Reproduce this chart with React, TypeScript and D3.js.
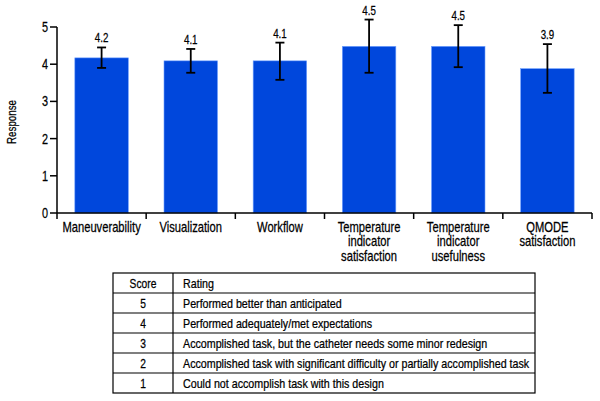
import React from "react";
import * as d3 from "d3";

const categories = [
  ["Maneuverability"],
  ["Visualization"],
  ["Workflow"],
  ["Temperature", "indicator", "satisfaction"],
  ["Temperature", "indicator", "usefulness"],
  ["QMODE", "satisfaction"],
];
const means = [4.17, 4.09, 4.09, 4.48, 4.48, 3.88];
const labels = ["4.2", "4.1", "4.1", "4.5", "4.5", "3.9"];
const errHigh = [4.45, 4.41, 4.58, 5.2, 5.05, 4.54];
const errLow = [3.9, 3.77, 3.58, 3.77, 3.92, 3.23];
const yTicks = [0, 1, 2, 3, 4, 5];

const tableHeader = ["Score", "Rating"];
const scores = ["5", "4", "3", "2", "1"];
const ratings = [
  "Performed better than anticipated",
  "Performed adequately/met expectations",
  "Accomplished task, but the catheter needs some minor redesign",
  "Accomplished task with significant difficulty or partially accomplished task",
  "Could not accomplish task with this design",
];

const FONT = "'Liberation Sans', Arial, sans-serif";

function T({ x, y, anchor = "start", size = 13, sx = 0.75, rotate = 0, children }: any) {
  return (
    <g transform={`translate(${x},${y}) rotate(${rotate}) scale(${sx},1)`}>
      <text x={0} y={0} textAnchor={anchor} fontSize={size} fontFamily={FONT} stroke="#000" strokeWidth={0.25} fill="#000">
        {children}
      </text>
    </g>
  );
}

export default function App() {
  const W = 600, H = 401;
  const x0 = 57, x1 = 592, yTop = 27, yBot = 213;
  const x = d3.scaleBand<number>().domain(d3.range(categories.length)).range([x0, x1]).paddingInner(0.4).paddingOuter(0.2);
  const y = d3.scaleLinear().domain([0, 5]).range([yBot, yTop]);
  const step = x.step();
  const blue = "#0047DC";

  const tL = 113, tR = 535, tDiv = 173, tTop = 273, rowH = 20;
  const rows = [tableHeader, ...scores.map((s, i) => [s, ratings[i]])];

  return (
    <svg width={W} height={H} style={{ position: "absolute", left: 0, top: 0, background: "#fff" }}>
      {means.map((m, i) => (
        <rect key={"b" + i} x={x(i)} y={y(m)} width={x.bandwidth()} height={y(0) - y(m)} fill={blue} stroke="#6fa0ff" strokeWidth={0.6} />
      ))}
      {means.map((m, i) => {
        const cx = (x(i) as number) + x.bandwidth() / 2;
        return (
          <g key={"e" + i} stroke="#000" strokeWidth={1.8}>
            <line x1={cx} x2={cx} y1={y(errHigh[i])} y2={y(errLow[i])} />
            <line x1={cx - 4.5} x2={cx + 4.5} y1={y(errHigh[i])} y2={y(errHigh[i])} />
            <line x1={cx - 4.5} x2={cx + 4.5} y1={y(errLow[i])} y2={y(errLow[i])} />
          </g>
        );
      })}
      {means.map((m, i) => {
        const cx = (x(i) as number) + x.bandwidth() / 2;
        return (
          <T key={"l" + i} x={cx} y={y(errHigh[i]) - 5} anchor="middle" size={13}>{labels[i]}</T>
        );
      })}
      <line x1={x0} x2={x0} y1={y(5)} y2={y(0)} stroke="#000" strokeWidth={1.5} />
      {yTicks.map((t) => (
        <g key={"yt" + t}>
          <line x1={x0 - 7} x2={x0} y1={y(t)} y2={y(t)} stroke="#000" strokeWidth={1.5} />
          <T x={x0 - 9} y={y(t) + 5} anchor="end" size={14.5}>{t}</T>
        </g>
      ))}
      <T x={16} y={(yTop + yBot) / 2 + 2} anchor="middle" size={13} rotate={-90}>Response</T>
      <line x1={x0} x2={x1} y1={yBot} y2={yBot} stroke="#000" strokeWidth={1.5} />
      {d3.range(categories.length + 1).map((k) => (
        <line key={"xt" + k} x1={x0 + k * step} x2={x0 + k * step} y1={yBot} y2={yBot + 6} stroke="#000" strokeWidth={1.5} />
      ))}
      {categories.map((lines, i) => {
        const cx = (x(i) as number) + x.bandwidth() / 2;
        return (
          <g key={"c" + i}>
            {lines.map((ln, j) => (
              <T key={j} x={cx} y={yBot + 18.5 + j * 14.5} anchor="middle" size={14} sx={0.8}>{ln}</T>
            ))}
          </g>
        );
      })}
      <g>
        <rect x={tL} y={tTop} width={tR - tL} height={rowH * rows.length} fill="none" stroke="#000" strokeWidth={1.2} />
        <line x1={tDiv} x2={tDiv} y1={tTop} y2={tTop + rowH * rows.length} stroke="#000" strokeWidth={1.2} />
        {rows.map((r, i) => (
          <g key={"r" + i}>
            {i > 0 && <line x1={tL} x2={tR} y1={tTop + i * rowH} y2={tTop + i * rowH} stroke="#000" strokeWidth={1.2} />}
            <T x={(tL + tDiv) / 2} y={tTop + i * rowH + 14.5} anchor="middle" size={12.5} sx={0.82}>{r[0]}</T>
            <T x={tDiv + 10} y={tTop + i * rowH + 14.5} size={12.5} sx={0.856}>{r[1]}</T>
          </g>
        ))}
      </g>
    </svg>
  );
}
